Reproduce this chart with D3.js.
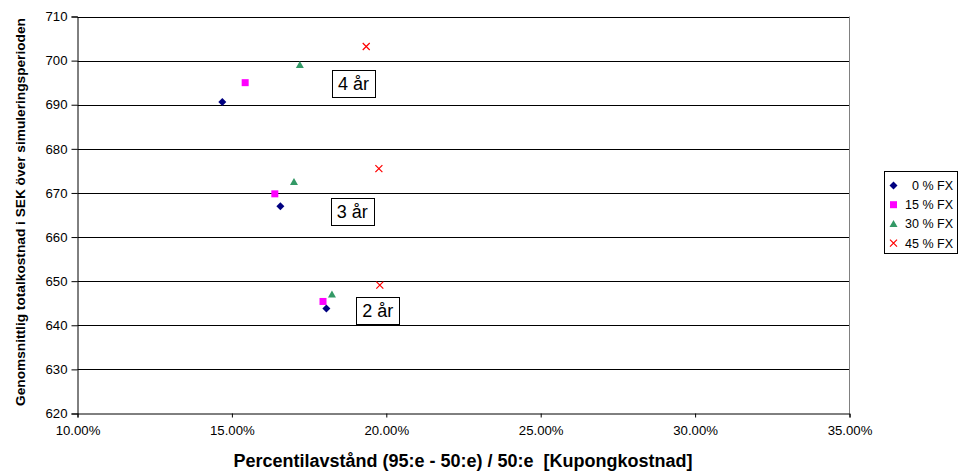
<!DOCTYPE html>
<html>
<head>
<meta charset="utf-8">
<script src="https://cdn.jsdelivr.net/npm/d3@7"></script>
<style>
  body { margin: 0; background: #fff; }
  svg { display: block; font-family: "Liberation Sans", Arial, sans-serif; }
</style>
</head>
<body>
<svg id="chart" width="963" height="473"></svg>
<script>
// Series: x = percentile spread (95th - 50th) / 50th, y = mean total cost (SEK)
const seriesNames = ["0 % FX", "15 % FX", "30 % FX", "45 % FX"];
const fx0x  = [0.1469, 0.1657, 0.1806];
const fx0y  = [690.6, 667.0, 643.8];
const fx15x = [0.1543, 0.1639, 0.1795];
const fx15y = [695.0, 669.8, 645.4];
const fx30x = [0.1720, 0.1701, 0.1824];
const fx30y = [699.0, 672.5, 647.0];
const fx45x = [0.1935, 0.1976, 0.1979];
const fx45y = [703.2, 675.5, 649.1];

const horizonLabels = ["4 år", "3 år", "2 år"];
const xTicks = [0.10, 0.15, 0.20, 0.25, 0.30, 0.35];
const yTicks = [620, 630, 640, 650, 660, 670, 680, 690, 700, 710];

const svg = d3.select("#chart");
const plot = { left: 77.5, right: 849.5, top: 16.5, bottom: 413.5 };

const x = d3.scaleLinear().domain([0.10, 0.35]).range([plot.left, plot.right]);
const y = d3.scaleLinear().domain([620, 710]).range([plot.bottom, plot.top]);

// gridlines
svg.append("g")
  .selectAll("line")
  .data(yTicks.filter(v => v > 620))
  .join("line")
  .attr("x1", plot.left).attr("x2", plot.right)
  .attr("y1", d => Math.round(y(d)) + 0.5).attr("y2", d => Math.round(y(d)) + 0.5)
  .attr("stroke", "#000").attr("stroke-width", 1);

// right border of plot area
svg.append("line")
  .attr("x1", plot.right).attr("x2", plot.right)
  .attr("y1", plot.top).attr("y2", plot.bottom)
  .attr("stroke", "#808080").attr("stroke-width", 1);

// y axis
const yAxis = d3.axisLeft(y).tickValues(yTicks).tickSize(6).tickPadding(4)
  .tickFormat(d3.format("d"));
const gy = svg.append("g").attr("transform", `translate(${plot.left},0)`).call(yAxis);
gy.select(".domain").attr("stroke", "#000");
gy.selectAll(".tick line").attr("stroke", "#000");
gy.selectAll("text").attr("font-size", 13.2).attr("fill", "#000")
  .attr("font-family", "Liberation Sans, Arial, sans-serif");

// x axis
const xAxis = d3.axisBottom(x).tickValues(xTicks).tickSize(4).tickPadding(8)
  .tickFormat(d3.format(".2%"));
const gx = svg.append("g").attr("transform", `translate(0,${plot.bottom})`).call(xAxis);
gx.select(".domain").attr("stroke", "#000");
gx.selectAll(".tick line").attr("stroke", "#000");
gx.selectAll("text").attr("font-size", 13.2).attr("fill", "#000")
  .attr("font-family", "Liberation Sans, Arial, sans-serif");

// axis titles
svg.append("text")
  .attr("x", 463).attr("y", 467)
  .attr("text-anchor", "middle")
  .attr("font-size", 18).attr("font-weight", "bold")
  .attr("xml:space", "preserve")
  .text("Percentilavstånd (95:e - 50:e) / 50:e  [Kupongkostnad]");

svg.append("text")
  .attr("transform", "translate(24.5,212) rotate(-90)")
  .attr("text-anchor", "middle")
  .attr("font-size", 13.7).attr("font-weight", "bold")
  .text("Genomsnittlig totalkostnad i SEK över simuleringsperioden");

// marker drawing helpers
const markers = [
  { type: "diamond", fill: "#000080" },
  { type: "square", fill: "#ff00ff" },
  { type: "triangle", fill: "#339966" },
  { type: "x", stroke: "#ff0000" }
];

function drawMarker(g, m, cx, cy) {
  let d;
  if (m.type === "diamond") d = `M${cx},${cy - 4}L${cx + 4},${cy}L${cx},${cy + 4}L${cx - 4},${cy}Z`;
  else if (m.type === "square") d = `M${cx - 3.5},${cy - 3.5}h7v7h-7Z`;
  else if (m.type === "triangle") d = `M${cx},${cy - 4}L${cx + 4},${cy + 3}L${cx - 4},${cy + 3}Z`;
  else {
    const s = 3.5;
    g.append("path")
      .attr("d", `M${cx - s},${cy - s}L${cx + s},${cy + s}M${cx - s},${cy + s}L${cx + s},${cy - s}`)
      .attr("stroke", m.stroke).attr("stroke-width", 1.2).attr("fill", "none");
    return;
  }
  g.append("path").attr("d", d).attr("fill", m.fill);
}

const allSeries = [
  [fx0x, fx0y], [fx15x, fx15y], [fx30x, fx30y], [fx45x, fx45y]
];

const marks = svg.append("g");
allSeries.forEach(([xs, ys], i) => {
  xs.forEach((xv, j) => drawMarker(marks, markers[i], x(xv), y(ys[j])));
});

// horizon labels (boxed), placed in data coordinates
const labelX = [0.1894, 0.1890, 0.1972];
const labelY = [694.8, 665.7, 643.3];
horizonLabels.forEach((t, i) => {
  const cx = x(labelX[i]), cy = y(labelY[i]);
  const g = svg.append("g");
  g.append("rect")
    .attr("x", Math.round(cx - 21.5) + 0.5).attr("y", Math.round(cy - 13.5) + 0.5)
    .attr("width", 43).attr("height", 27)
    .attr("fill", "#fff").attr("stroke", "#000").attr("stroke-width", 1);
  g.append("text")
    .attr("x", cx).attr("y", cy + 6.5)
    .attr("text-anchor", "middle")
    .attr("font-size", 18)
    .text(t);
});

// legend
const legend = svg.append("g");
legend.append("rect")
  .attr("x", 884.5).attr("y", 171.5).attr("width", 73).attr("height", 82)
  .attr("fill", "#fff").attr("stroke", "#000").attr("stroke-width", 1);
seriesNames.forEach((name, i) => {
  const cy = 185.5 + i * 19.2;
  drawMarker(legend, markers[i], 893.5, cy);
  legend.append("text")
    .attr("x", 953).attr("y", cy + 4.5)
    .attr("text-anchor", "end")
    .attr("font-size", 12.5)
    .text(name);
});
</script>
</body>
</html>
